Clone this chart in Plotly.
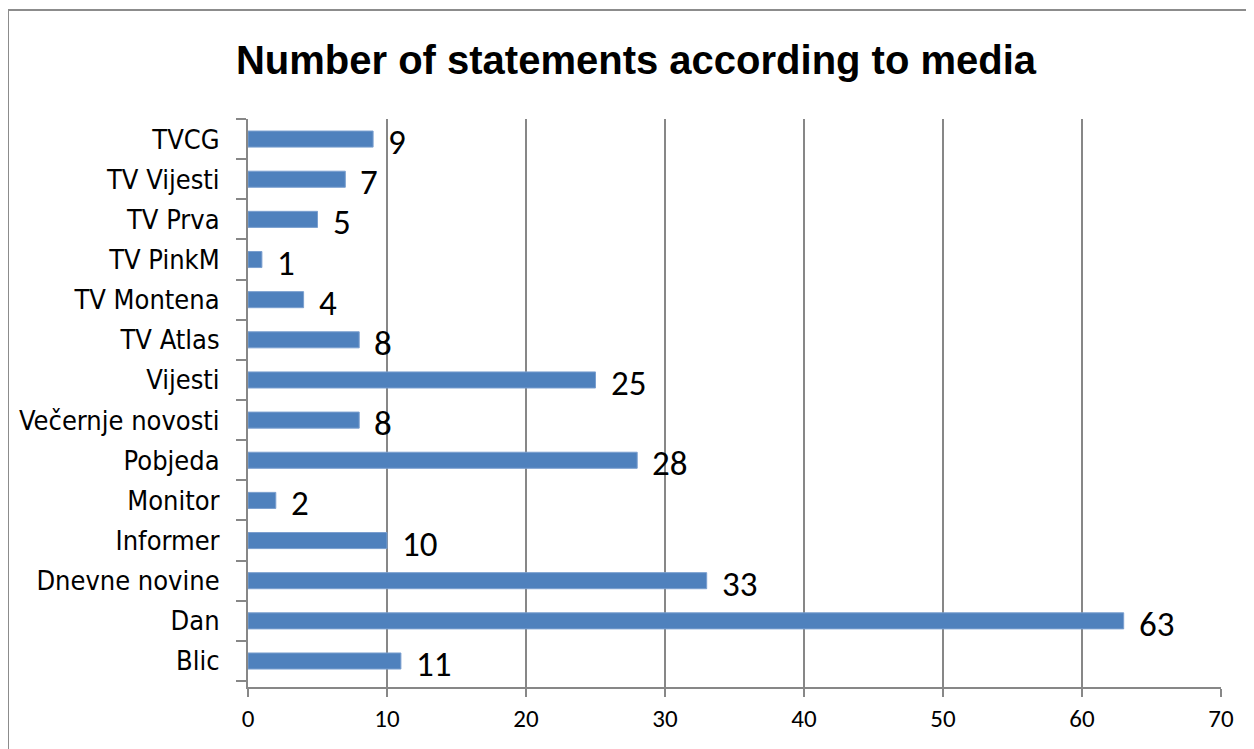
import plotly.graph_objects as go

categories = ["Blic", "Dan", "Dnevne novine", "Informer", "Monitor", "Pobjeda",
              "Večernje novosti", "Vijesti", "TV Atlas", "TV Montena", "TV PinkM",
              "TV Prva", "TV Vijesti", "TVCG"]
values = [11, 63, 33, 10, 2, 28, 8, 25, 8, 4, 1, 5, 7, 9]
x_ticks = [0, 10, 20, 30, 40, 50, 60, 70]
title_text = "Number of statements according to media"

NARROW = "DejaVu Sans Condensed"
TITLEF = "Liberation Sans, Arial, sans-serif"
CAL = "Carlito, Calibri, Lato, sans-serif"
GRAY = "#878787"

# page has an 8px body margin; figure coordinates are offset accordingly
W, H = 1254, 749
L, R, T, B = 240, 1213, 111, 679

fig = go.Figure()
fig.add_trace(go.Bar(
    x=values, y=categories, orientation="h",
    marker=dict(color="#4F81BD", line=dict(color="#7A9FCF", width=1)),
    width=0.4, hoverinfo="x+y",
))

for c, v in zip(categories, values):
    fig.add_annotation(x=v, y=c, text=str(v), showarrow=False,
                       xanchor="left", yanchor="middle", xshift=13, yshift=-3,
                       font=dict(family=CAL, size=35, color="#000000"))

# outer chart border
pw, ph = R - L, B - T
fig.add_shape(type="rect", xref="paper", yref="paper",
              x0=(0 - L) / pw, x1=(W + 20 - L) / pw,
              y0=(B - (H + 20)) / ph, y1=(B - 2) / ph,
              line=dict(color="#8c8c8c", width=2), layer="below")

fig.update_layout(
    width=W, height=H,
    margin=dict(l=L, r=W - R, t=T, b=H - B, autoexpand=False),
    paper_bgcolor="white", plot_bgcolor="white",
    showlegend=False,
    title=dict(text="<b>" + title_text + "</b>", x=628 / W, xanchor="center",
               y=1 - 52 / H, yanchor="middle", yref="container",
               font=dict(family=TITLEF, size=40, color="#000000")),
    xaxis=dict(range=[0, 70], tickvals=x_ticks, showgrid=True, automargin=False,
               gridcolor=GRAY, gridwidth=1.5, zeroline=False,
               showline=True, linecolor=GRAY, linewidth=2,
               ticks="outside", ticklen=8, tickcolor=GRAY, tickwidth=2,
               tickfont=dict(family=CAL, size=25, color="#000000")),
    yaxis=dict(type="category", categoryorder="array", categoryarray=categories,
               showgrid=False, zeroline=False, automargin=False,
               showline=True, linecolor=GRAY, linewidth=2,
               ticks="outside", ticklen=10, tickcolor=GRAY, tickwidth=2,
               tickson="boundaries", ticklabelstandoff=21,
               tickfont=dict(family=NARROW, size=27, color="#000000")),
)

fig.write_html("out.html")
